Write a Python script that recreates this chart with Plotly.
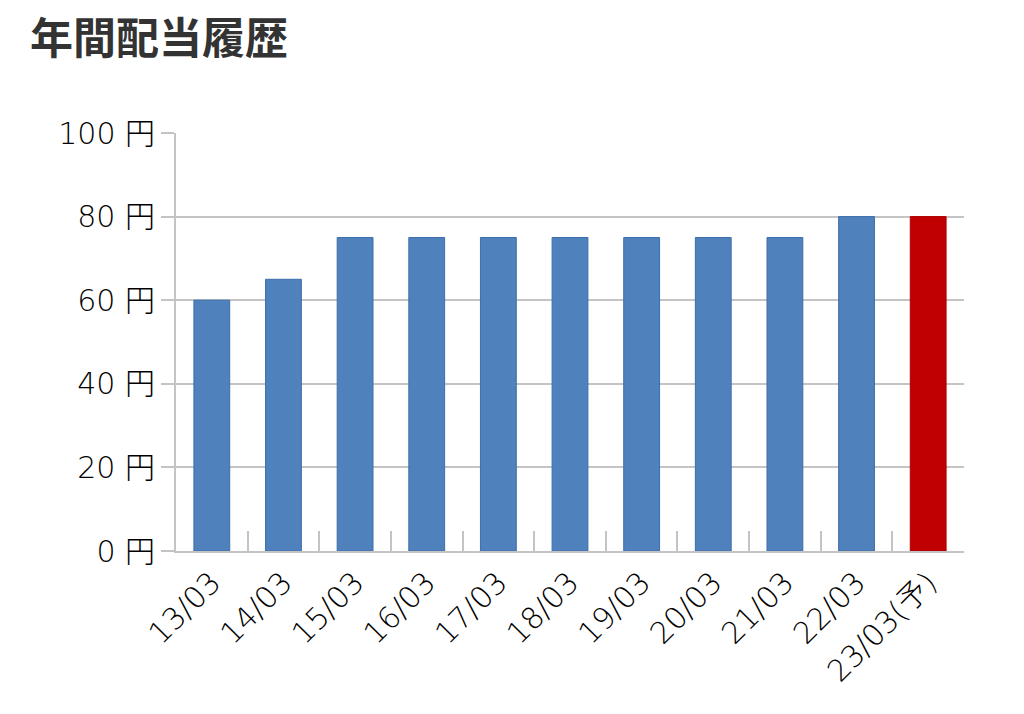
import plotly.graph_objects as go

categories = ["13/03", "14/03", "15/03", "16/03", "17/03", "18/03", "19/03", "20/03", "21/03", "22/03", "23/03(予)"]
dividends = [60, 65, 75, 75, 75, 75, 75, 75, 75, 80, 80]
y_ticks = [0, 20, 40, 60, 80, 100]
y_tick_labels = ["0 円", "20 円", "40 円", "60 円", "80 円", "100 円"]

fill_colors = ["#4f81bd"] * 10 + ["#c00000"]
line_colors = ["#3d6eaa"] * 10 + ["#b00000"]

title_family = "Noto Sans CJK JP, Noto Sans, sans-serif"
tick_family = "DejaVu Sans, Noto Sans CJK JP, sans-serif"
grid = "#c4c4c4"

fig = go.Figure(
    go.Bar(
        x=categories,
        y=dividends,
        width=0.5,
        marker=dict(color=fill_colors, line=dict(color=line_colors, width=1)),
        hoverinfo="x+y",
    )
)

fig.update_layout(
    width=1024,
    height=714,
    margin=dict(l=176, r=60, t=133, b=163),
    paper_bgcolor="white",
    plot_bgcolor="white",
    showlegend=False,
    title=dict(
        text="<b>年間配当履歴</b>",
        x=30 / 1024,
        xanchor="left",
        y=1 - 39 / 714,
        yanchor="middle",
        font=dict(family=title_family, size=43, color="#333333"),
    ),
    font=dict(family=tick_family, color="#000000"),
)

fig.update_xaxes(
    type="category",
    automargin=False,
    showline=True,
    linecolor=grid,
    linewidth=2,
    ticks="inside",
    tickson="boundaries",
    ticklen=20,
    tickwidth=2,
    tickcolor=grid,
    tickangle=-45,
    tickfont=dict(family=tick_family, size=30, color="#000000", weight=200),
    showgrid=False,
)

fig.update_yaxes(
    automargin=False,
    range=[0, 100],
    tickmode="array",
    tickvals=y_ticks,
    ticktext=y_tick_labels,
    showline=True,
    linecolor=grid,
    linewidth=2,
    ticks="outside",
    ticklen=13,
    tickwidth=2,
    tickcolor=grid,
    showgrid=True,
    gridcolor=grid,
    gridwidth=2,
    zeroline=False,
    tickfont=dict(family=tick_family, size=30, color="#000000", weight=200),
)

fig.write_html("out.html")
